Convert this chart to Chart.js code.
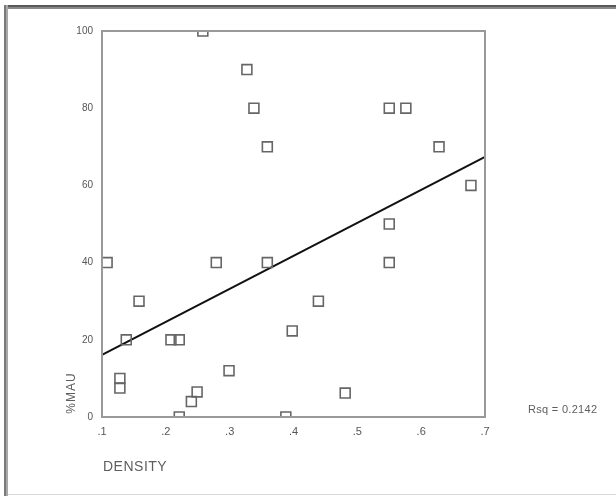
<!DOCTYPE html>
<html>
<head>
<meta charset="utf-8">
<script src="https://cdn.jsdelivr.net/npm/chart.js@4/dist/chart.umd.min.js"></script>
<style>
html,body{margin:0;padding:0;background:#fff;}
#wrap{position:relative;width:616px;height:496px;}
</style>
</head>
<body>
<div id="wrap"><canvas id="c" width="616" height="496"></canvas></div>
<script>
// Data
const densityValues = [0.108,0.138,0.128,0.128,0.158,0.208,0.221,0.221,0.240,0.249,0.258,0.279,0.299,0.327,0.338,0.359,0.359,0.388,0.398,0.439,0.481,0.550,0.550,0.550,0.576,0.628,0.678];
const mauValues     = [40,20,10,7.5,30,20,20,0,4,6.5,100,40,12,90,80,70,40,0,22.3,30,6.2,40,50,80,80,70,60];
const fitLineX = [0.1, 0.7];
const fitLineY = [16.1, 67.4];
const xTickLabels = ['.1','.2','.3','.4','.5','.6','.7'];
const yTickLabels = ['0','20','40','60','80','100'];
const xTitle = 'DENSITY';
const yTitle = '%MAU';
const rsqText = 'Rsq = 0.2142';

const points = densityValues.map((d,i)=>({x:d,y:mauValues[i]}));
const fitPts = fitLineX.map((d,i)=>({x:d,y:fitLineY[i]}));

const decor = {
  id:'decor',
  beforeDraw(chart){
    const ctx = chart.ctx;
    ctx.save();
    ctx.fillStyle='#fff';
    ctx.fillRect(0,0,616,496);
    // outer frame
    ctx.fillStyle='#8a8a8a';
    ctx.fillRect(4,5,612,4);
    ctx.fillStyle='#5a5a5a';
    ctx.fillRect(4,5,612,2);
    ctx.fillStyle='#a8a8a8';
    ctx.fillRect(4,5,4,491);
    ctx.fillStyle='#7a7a7a';
    ctx.fillRect(4,5,2,491);
    ctx.fillStyle='#d8d8d8';
    ctx.fillRect(8,494,608,1);
    ctx.restore();
  },
  afterDatasetsDraw(chart){
    const ctx = chart.ctx, a = chart.chartArea;
    ctx.save();
    ctx.strokeStyle='#999';
    ctx.lineWidth=2;
    ctx.strokeRect(a.left, a.top, a.right-a.left, a.bottom-a.top);
    ctx.fillStyle='#5e5e5e';
    ctx.textBaseline='middle';
    ctx.textAlign='left';
    ctx.font='14px "Liberation Sans", Arial, sans-serif';
    ctx.letterSpacing='0.5px';
    ctx.fillText(xTitle, 103, 467);
    ctx.font='11px "Liberation Sans", Arial, sans-serif';
    ctx.letterSpacing='0.3px';
    ctx.fillText(rsqText, 528, 410);
    ctx.translate(72, 393);
    ctx.rotate(-Math.PI/2);
    ctx.textAlign='center';
    ctx.font='12px "Liberation Sans", Arial, sans-serif';
    ctx.letterSpacing='1px';
    ctx.fillText(yTitle, 0, 0);
    ctx.restore();
  }
};

new Chart(document.getElementById('c'), {
  type:'scatter',
  data:{
    datasets:[
      {
        label:'%MAU',
        data:points,
        pointStyle:'rect',
        pointRadius:7,
        pointBackgroundColor:'rgba(255,255,255,0)',
        pointBorderColor:'#666',
        pointBorderWidth:1.6,
        showLine:false
      },
      {
        label:'fit',
        type:'line',
        data:fitPts,
        borderColor:'#111',
        borderWidth:2,
        pointRadius:0,
        fill:false
      }
    ]
  },
  options:{
    responsive:false,
    animation:false,
    devicePixelRatio:1,
    layout:{padding:{left:0,top:31,right:131,bottom:0}},
    plugins:{legend:{display:false},tooltip:{enabled:false}},
    scales:{
      x:{
        type:'linear',
        min:0.1,max:0.7,
        afterFit(s){ s.height = 79; },
        border:{display:false},
        grid:{display:false, drawOnChartArea:false, drawTicks:true, tickLength:5, color:'#999'},
        ticks:{
          stepSize:0.1,
          padding:3,
          color:'#555',
          font:{size:11,family:'"Liberation Sans", Arial, sans-serif'},
          callback:(v)=>{ const i = Math.round(v*10)-1; return xTickLabels[i] ?? ''; },
          maxRotation:0
        }
      },
      y:{
        type:'linear',
        min:0,max:100,
        afterFit(s){ s.width = 102; },
        border:{display:false},
        grid:{display:false, drawOnChartArea:false, drawTicks:true, tickLength:5, color:'#999'},
        ticks:{
          stepSize:20,
          padding:4,
          color:'#555',
          font:{size:10,family:'"Liberation Sans", Arial, sans-serif'},
          callback:(v)=>{ const i = Math.round(v/20); return yTickLabels[i] ?? ''; }
        }
      }
    }
  },
  plugins:[decor]
});
</script>
</body>
</html>
